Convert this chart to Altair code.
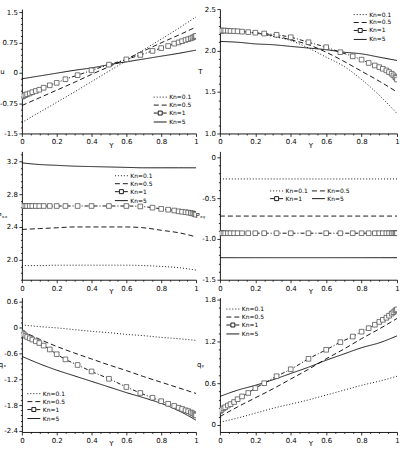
import altair as alt
import pandas as pd

KN = ["Kn=0.1", "Kn=0.5", "Kn=1", "Kn=5"]
Y_LINE = [0, 0.1, 0.2, 0.3, 0.4, 0.5, 0.6, 0.7, 0.8, 0.9, 1.0]
Y_MARK = [0, 0.005, 0.01, 0.02, 0.03, 0.045, 0.06, 0.08, 0.1, 0.125, 0.16, 0.2, 0.25,
          0.32, 0.4, 0.5, 0.6, 0.68, 0.75, 0.8, 0.84, 0.875, 0.9, 0.92, 0.94, 0.955,
          0.97, 0.98, 0.99, 0.995, 1.0]

# panel 1 : u
u_01 = [-1.23, -0.98, -0.73, -0.48, -0.22, 0.04, 0.30, 0.57, 0.83, 1.10, 1.38]
u_05 = [-0.81, -0.62, -0.43, -0.24, -0.04, 0.15, 0.34, 0.54, 0.74, 0.93, 1.13]
u_1 = [-0.59, -0.58, -0.57, -0.55, -0.53, -0.51, -0.48, -0.45, -0.42, -0.37, -0.31,
       -0.25, -0.16, -0.06, 0.06, 0.20, 0.33, 0.44, 0.54, 0.61, 0.66, 0.72, 0.75,
       0.78, 0.81, 0.83, 0.85, 0.87, 0.89, 0.90, 0.91]
u_5 = [-0.15, -0.08, -0.01, 0.06, 0.12, 0.20, 0.27, 0.34, 0.41, 0.48, 0.56]

# panel 2 : T
T_01 = [2.26, 2.24, 2.21, 2.17, 2.12, 2.03, 1.92, 1.81, 1.65, 1.46, 1.24]
T_05 = [2.25, 2.235, 2.21, 2.18, 2.13, 2.07, 1.98, 1.87, 1.75, 1.63, 1.50]
T_1 = [2.24, 2.24, 2.24, 2.24, 2.24, 2.238, 2.236, 2.234, 2.232, 2.228, 2.222, 2.215,
       2.205, 2.19, 2.16, 2.10, 2.04, 1.98, 1.93, 1.89, 1.85, 1.82, 1.80, 1.78, 1.76,
       1.74, 1.72, 1.70, 1.68, 1.67, 1.65]
T_5 = [2.11, 2.10, 2.08, 2.07, 2.05, 2.03, 2.01, 1.98, 1.96, 1.92, 1.88]

# panel 3 : Pxx
Pxx_01 = [1.93, 1.93, 1.935, 1.935, 1.935, 1.935, 1.935, 1.93, 1.92, 1.905, 1.875]
Pxx_05 = [2.37, 2.38, 2.39, 2.40, 2.40, 2.40, 2.40, 2.39, 2.36, 2.33, 2.28]
Pxx_1 = [2.655, 2.655, 2.655, 2.655, 2.655, 2.655, 2.655, 2.655, 2.655, 2.655, 2.655,
         2.655, 2.655, 2.655, 2.655, 2.655, 2.655, 2.65, 2.635, 2.62, 2.61, 2.60, 2.59,
         2.585, 2.58, 2.575, 2.57, 2.565, 2.56, 2.555, 2.55]
Pxx_5 = [3.18, 3.16, 3.15, 3.14, 3.135, 3.13, 3.125, 3.12, 3.12, 3.12, 3.12]

# panel 4 : Pxy
Pxy_01 = [-0.265, -0.265, -0.265, -0.265, -0.265, -0.265, -0.265, -0.265, -0.265, -0.265, -0.265]
Pxy_05 = [-0.72, -0.72, -0.72, -0.72, -0.72, -0.72, -0.72, -0.72, -0.72, -0.72, -0.72]
Pxy_1 = [-0.93, -0.93, -0.93, -0.93, -0.93, -0.93, -0.93, -0.93, -0.93, -0.93, -0.93,
         -0.93, -0.93, -0.93, -0.93, -0.93, -0.93, -0.93, -0.93, -0.93, -0.93, -0.93,
         -0.93, -0.93, -0.93, -0.93, -0.93, -0.93, -0.93, -0.93, -0.93]
Pxy_5 = [-1.23, -1.23, -1.23, -1.23, -1.23, -1.23, -1.23, -1.23, -1.23, -1.23, -1.23]

# panel 5 : qx
qx_01 = [0.06, 0.02, -0.01, -0.05, -0.09, -0.12, -0.16, -0.19, -0.23, -0.26, -0.30]
qx_05 = [-0.08, -0.27, -0.44, -0.59, -0.73, -0.87, -1.00, -1.14, -1.27, -1.40, -1.53]
qx_1 = [-0.12, -0.14, -0.16, -0.19, -0.22, -0.25, -0.28, -0.32, -0.36, -0.42, -0.51,
        -0.62, -0.74, -0.87, -1.02, -1.19, -1.38, -1.52, -1.63, -1.71, -1.77, -1.82,
        -1.86, -1.89, -1.92, -1.94, -1.97, -1.99, -2.01, -2.03, -2.04]
qx_5 = [-0.67, -0.84, -0.99, -1.12, -1.25, -1.38, -1.51, -1.63, -1.76, -1.93, -2.15]

# panel 6 : qy
qy_01 = [0.04, 0.10, 0.17, 0.24, 0.30, 0.36, 0.43, 0.50, 0.57, 0.63, 0.70]
qy_05 = [0.12, 0.26, 0.39, 0.52, 0.66, 0.80, 0.95, 1.09, 1.24, 1.38, 1.53]
qy_1 = [0.20, 0.21, 0.22, 0.24, 0.255, 0.28, 0.30, 0.33, 0.37, 0.41, 0.46, 0.53, 0.60,
        0.70, 0.80, 0.95, 1.08, 1.19, 1.27, 1.34, 1.39, 1.44, 1.48, 1.51, 1.54, 1.57,
        1.60, 1.62, 1.64, 1.65, 1.66]
qy_5 = [0.41, 0.50, 0.57, 0.65, 0.74, 0.83, 0.93, 1.02, 1.11, 1.18, 1.28]

FONT = "DejaVu Sans"
DASHES = [[1, 2], [5, 3], [4, 2, 1, 2], [1, 0]]
# legend symbols: unit = 4 px (symbol size 64)
LEG_SHAPES = [
    "M-1,0h0.25M-0.25,0h0.25M0.5,0h0.25M1.25,0h0.25M2,0h0.25",
    "M-1,0H0.25M1,0H2.25",
    "M-1,0H0M0.125,-0.5H1.125V0.5H0.125ZM1.25,0H2.25",
    "M-1,0H2.25",
]


def frange(lo, hi, step):
    out = []
    k = 0
    while True:
        v = round(lo + k * step, 6)
        if v > hi + 1e-9:
            break
        out.append(v)
        k += 1
    return out


def major_test(step):
    return f"abs(datum.value/{step} - round(datum.value/{step})) < 0.01"


def label_expr(step, kind):
    t = major_test(step)
    if kind == "g":
        lab = "replace(format(datum.value, '~g'), '\u2212', '-')"
    elif kind == "f":
        lab = "replace(format(datum.value, '.1f'), '\u2212', '-')"
    else:  # zero as '0'
        lab = "(abs(datum.value) < 1e-9 ? '0' : replace(format(datum.value, '.1f'), '\u2212', '-'))"
    return f"{t} ? {lab} : ''"


def panel(series, ytitle, ydom, ylo, yhi, ymajor, ykind, w, h, lx, ly, lcols=1):
    xticks = frange(0, 1, 0.05)
    yticks = frange(ylo, yhi, ymajor / 5)

    xenc = alt.X(
        "Y:Q",
        scale=alt.Scale(domain=[0, 1], nice=False, zero=False),
        axis=alt.Axis(
            values=xticks, labelExpr=label_expr(0.2, "g"), title="Y",
            labelOverlap=False, labelFlush=False, labelBound=False,
            tickSize={"condition": {"test": major_test(0.2), "value": 3}, "value": 1.5},
            titleY=12, titleBaseline="middle", titleX=w / 2 + 2,
        ),
    )
    yenc = alt.Y(
        "v:Q",
        scale=alt.Scale(domain=ydom, nice=False, zero=False),
        axis=alt.Axis(
            values=yticks, labelExpr=label_expr(ymajor, ykind), title=ytitle,
            labelOverlap=False, labelFlush=False, labelBound=False,
            tickSize={"condition": {"test": major_test(ymajor), "value": 3}, "value": 1.5},
            titleAngle=0, titleX=-20, titleY=h / 2, titleAlign="center",
            titleBaseline="middle",
        ),
    )

    layers = []
    for name, vals, dash in zip(KN, series, DASHES):
        ys = Y_MARK if name == "Kn=1" else Y_LINE
        df = pd.DataFrame({"Y": ys, "v": vals})
        layers.append(
            alt.Chart(df).mark_line(
                color="black", strokeWidth=0.9, interpolate="monotone", clip=True,
                strokeDash=dash,
            ).encode(x=xenc, y=yenc)
        )
        if name == "Kn=1":
            mark_df = df
    layers.append(
        alt.Chart(mark_df).mark_point(
            shape="square", size=22, filled=True, fill="white", stroke="#555",
            strokeWidth=0.8, opacity=1, clip=True,
        ).encode(x=xenc, y=yenc)
    )
    leg_df = pd.DataFrame({"Y": [2.0] * 4, "v": [ydom[0]] * 4, "Series": KN})
    layers.append(
        alt.Chart(leg_df).mark_point(
            clip=True, size=64, color="black", filled=False, strokeWidth=1, opacity=1
        ).encode(
            x=xenc, y=yenc,
            shape=alt.Shape(
                "Series:N",
                scale=alt.Scale(domain=KN, range=LEG_SHAPES),
                legend=alt.Legend(
                    title=None, orient="none", legendX=lx, legendY=ly, columns=lcols,
                    direction="horizontal" if lcols > 1 else "vertical",
                    symbolSize=64, symbolStrokeColor="black",
                    symbolFillColor="transparent", symbolStrokeWidth=0.9,
                    labelFont=FONT, labelFontSize=6, labelOffset=7,
                    rowPadding=0, columnPadding=1, padding=0, labelColor="black",
                    symbolOpacity=1,
                ),
            ),
        )
    )
    return alt.layer(*layers).properties(width=w, height=h)


W1, W2 = 175, 178
H1, H2, H3 = 125, 129, 135

p1 = panel([u_01, u_05, u_1, u_5], "u", [-1.5, 1.574], -1.5, 1.5, 0.75, "g", W1, H1, 132, 84)
p2 = panel([T_01, T_05, T_1, T_5], "T", [1.0, 2.5], 1.0, 2.5, 0.5, "f", W2, H1, 134, 1)
p3 = panel([Pxx_01, Pxx_05, Pxx_1, Pxx_5], "P\u2093\u2093", [1.758, 3.32], 1.76, 3.32, 0.4, "f", W1, H2, 93, 20)
p4 = panel([Pxy_01, Pxy_05, Pxy_1, Pxy_5], "P\u2093\u1d67", [-1.5, 0.073], -1.5, 0.0, 0.5, "z", W2, H2, 50, 35, 2)
p5 = panel([qx_01, qx_05, qx_1, qx_5], "q\u2093", [-2.423, 0.692], -2.4, 0.6, 0.6, "z", W1, H3, 5, 92)
p6 = panel([qy_01, qy_05, qy_1, qy_5], "q\u1d67", [-0.1, 1.829], 0.0, 1.8, 0.6, "z", W2, H3, 6, 7)

chart = (
    alt.concat(p1, p2, p3, p4, p5, p6, columns=2, spacing={"row": 18, "column": 24}, bounds="flush")
    .resolve_scale(shape="independent", x="independent", y="independent")
    .resolve_legend(shape="independent")
    .properties(padding={"left": -4, "top": 4, "right": 0, "bottom": 0}, background="white")
    .configure_view(stroke=None)
    .configure_axis(
        grid=False, domainColor="black", tickColor="black", labelColor="black",
        titleColor="black", labelFont=FONT, titleFont=FONT, labelFontSize=7,
        titleFontSize=7, titleFontWeight="normal", labelPadding=1.5, tickWidth=0.8,
        domainWidth=0.9,
    )
)

chart.save("out.html", embed_options={"renderer": "svg", "actions": False})
